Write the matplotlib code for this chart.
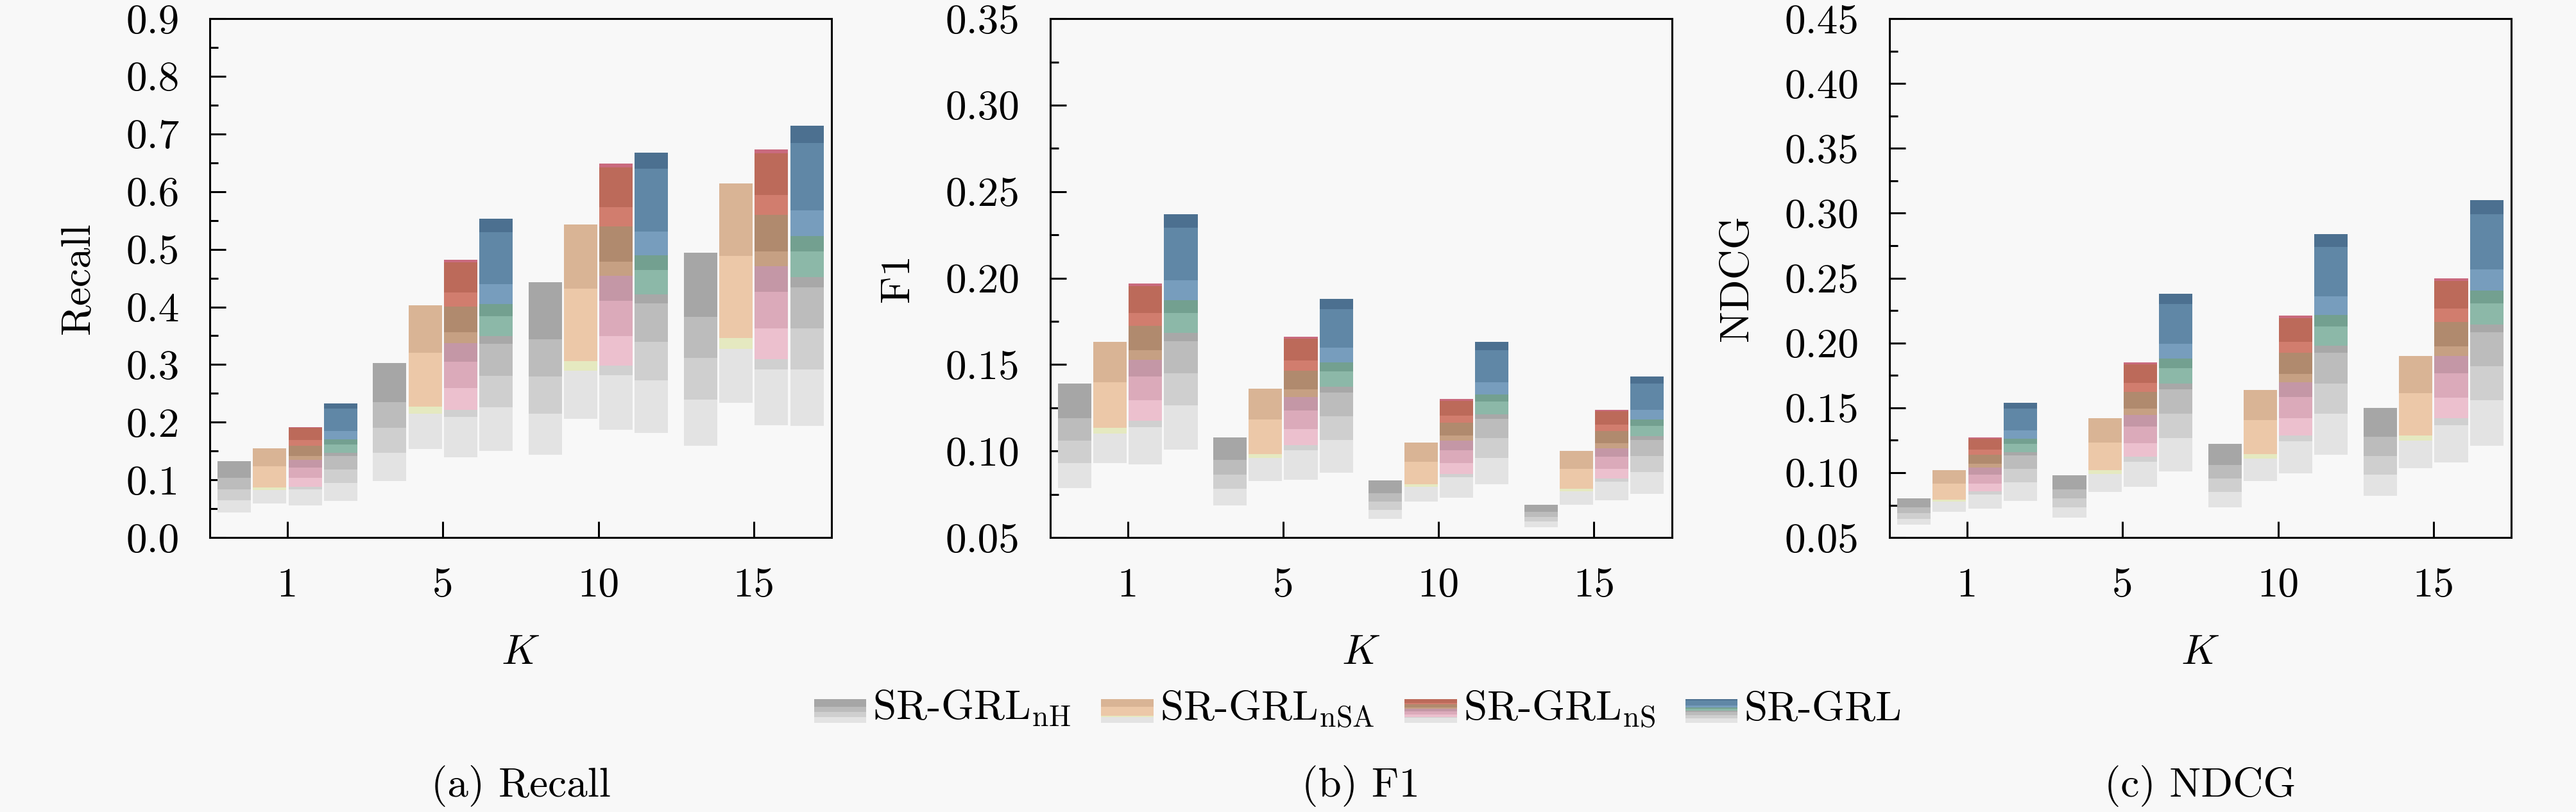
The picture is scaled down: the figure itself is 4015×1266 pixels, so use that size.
import numpy as np
import matplotlib
matplotlib.use('Agg')
import matplotlib.pyplot as plt
from matplotlib.patches import Patch, Rectangle
from matplotlib.ticker import MultipleLocator, FormatStrFormatter

plt.rcParams['font.family'] = 'serif'
plt.rcParams['font.serif'] = ['cmr10']
plt.rcParams['mathtext.fontset'] = 'cm'
plt.rcParams['axes.formatter.use_mathtext'] = True

# values
k_labels = ['1', '5', '10', '15']
model_names = [r'SR-GRL$_{\mathrm{nH}}$', r'SR-GRL$_{\mathrm{nSA}}$',
               r'SR-GRL$_{\mathrm{nS}}$', 'SR-GRL']

recall_nH = [0.133, 0.303, 0.443, 0.494]
recall_nSA = [0.155, 0.403, 0.543, 0.614]
recall_nS = [0.192, 0.482, 0.649, 0.673]
recall_full = [0.233, 0.553, 0.668, 0.714]

f1_nH = [0.139, 0.108, 0.083, 0.069]
f1_nSA = [0.163, 0.136, 0.105, 0.100]
f1_nS = [0.197, 0.166, 0.130, 0.124]
f1_full = [0.237, 0.188, 0.163, 0.143]

ndcg_nH = [0.080, 0.098, 0.122, 0.150]
ndcg_nSA = [0.102, 0.142, 0.164, 0.190]
ndcg_nS = [0.127, 0.185, 0.221, 0.250]
ndcg_full = [0.154, 0.238, 0.284, 0.310]

# each bar is painted as bands fading downwards (fractions of bar height)
band_fracs = [
    [1, 0.776, 0.63, 0.485, 0.323],
    [1, 0.795, 0.563, 0.533, 0.38],
    [1, 0.99, 0.883, 0.832, 0.738, 0.699, 0.633, 0.539, 0.46, 0.434, 0.289],
    [1, 0.958, 0.795, 0.733, 0.695, 0.632, 0.608, 0.508, 0.408, 0.272],
]
band_colors = [
    ['#a6a6a6', '#bcbcbc', '#cfcfcf', '#e3e3e3'],
    ['#d9b495', '#ecc8a8', '#e5e9c0', '#e3e3e3'],
    ['#c96a7e', '#bc6a5a', '#d17d6e', '#b08a6e', '#c6a083', '#c497a6',
     '#dbaaba', '#ecc0ce', '#d0d0d0', '#e3e3e3'],
    ['#4c7090', '#6087a6', '#779dbd', '#73a090', '#8cb8a8', '#a8a8a8',
     '#bcbcbc', '#cfcfcf', '#e3e3e3'],
]

bg = '#f8f8f8'
fs = 23.5
bar_w = 0.215
step = 0.228


def draw_group(ax, series, base):
    x = np.arange(len(k_labels))
    for i, vals in enumerate(series):
        vals = np.array(vals)
        xi = x + (i - 1.5) * step
        fr = band_fracs[i]
        for j, c in enumerate(band_colors[i]):
            top = base + fr[j] * (vals - base)
            bot = base + fr[j + 1] * (vals - base)
            ax.bar(xi, top - bot, bottom=bot, width=bar_w, color=c,
                   edgecolor='none', zorder=2)


class BandHandler:
    def __init__(self, idx):
        self.idx = idx

    def legend_artist(self, legend, orig_handle, fontsize, handlebox):
        x0, y0 = handlebox.xdescent, handlebox.ydescent
        w, h = handlebox.width, handlebox.height
        fr = band_fracs[self.idx]
        lo = fr[-1]
        last = None
        for j, c in enumerate(band_colors[self.idx]):
            b = (fr[j + 1] - lo) / (1 - lo) * h
            t = (fr[j] - lo) / (1 - lo) * h
            last = Rectangle((x0, y0 + b), w, t - b, facecolor=c,
                             edgecolor='none',
                             transform=handlebox.get_transform())
            handlebox.add_artist(last)
        return last


fig = plt.figure(figsize=(20.08, 6.33), dpi=200, facecolor=bg)

panels = [
    ([recall_nH, recall_nSA, recall_nS, recall_full], 'Recall', (0.0, 0.9), 0.1, 0.05, '%.1f', 0.0814, '(a) Recall'),
    ([f1_nH, f1_nSA, f1_nS, f1_full], 'F1', (0.05, 0.35), 0.05, 0.025, '%.2f', 0.4075, '(b) F1'),
    ([ndcg_nH, ndcg_nSA, ndcg_nS, ndcg_full], 'NDCG', (0.05, 0.45), 0.05, 0.025, '%.2f', 0.7333, '(c) NDCG'),
]

for series, ylab, ylim, major, minor, fmt, left, cap in panels:
    ax = fig.add_axes([left, 0.338, 0.2413, 0.639])
    ax.set_facecolor(bg)
    draw_group(ax, series, ylim[0])
    ax.set_xlim(-0.5, 3.5)
    ax.set_ylim(*ylim)
    ax.set_xticks(np.arange(len(k_labels)))
    ax.set_xticklabels(k_labels)
    ax.yaxis.set_major_locator(MultipleLocator(major))
    ax.yaxis.set_minor_locator(MultipleLocator(minor))
    ax.yaxis.set_major_formatter(FormatStrFormatter(fmt))
    ax.tick_params(axis='both', which='major', direction='in', length=9,
                   width=1.1, labelsize=fs, pad=17)
    ax.tick_params(axis='y', which='minor', direction='in', length=4.6,
                   width=1.1)
    ax.tick_params(top=False, right=False)
    for sp in ax.spines.values():
        sp.set_linewidth(1.1)
    ax.set_xlabel(r'$K$', fontsize=fs, labelpad=17)
    ax.set_ylabel(ylab, fontsize=fs, labelpad=16)
    fig.text(left + 0.2413 / 2, 0.032, cap, ha='center', va='center',
             fontsize=fs)

handles = [Patch() for _ in model_names]
fig.legend(handles, model_names, loc='center', bbox_to_anchor=(0.527, 0.127),
           ncol=4, frameon=False, fontsize=fs, handlelength=1.25,
           handleheight=0.5, handletextpad=0.15, columnspacing=0.72,
           handler_map={h: BandHandler(i) for i, h in enumerate(handles)})

fig.savefig('out.png', dpi=200, facecolor=bg)
